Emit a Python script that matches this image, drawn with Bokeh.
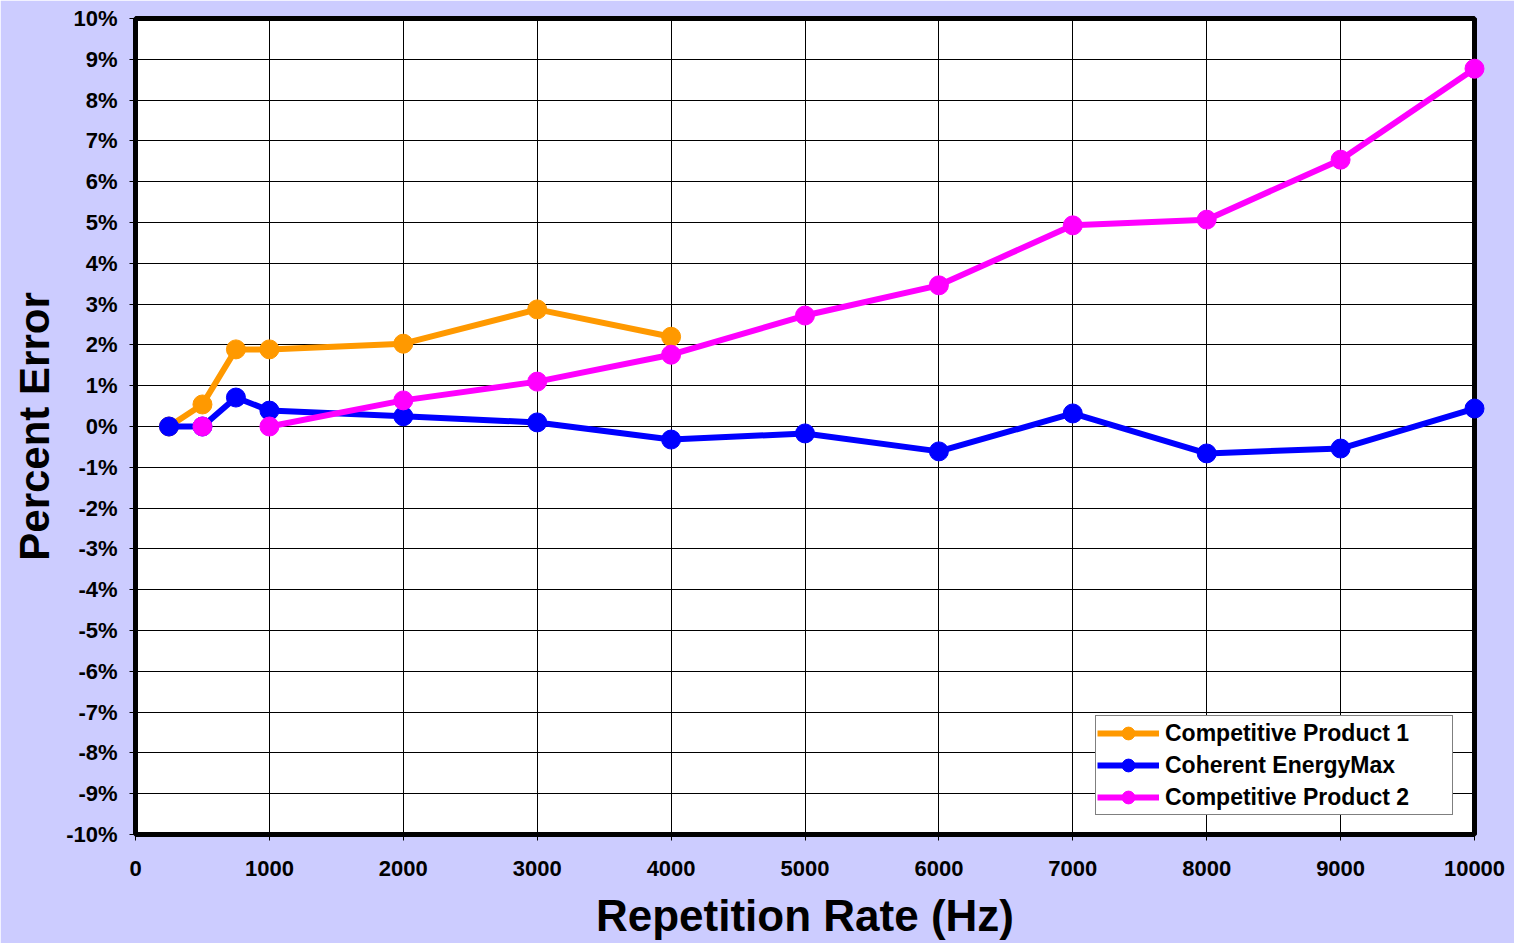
from bokeh.plotting import figure
from bokeh.models import Range1d, FixedTicker, PrintfTickFormatter, Legend, LegendItem
from bokeh.embed import file_html
from bokeh.resources import INLINE
import numpy as np

# Data (percent error vs repetition rate in Hz)
cp1_x = [250, 500, 750, 1000, 2000, 3000, 4000]
cp1_y = [0.0, 0.54, 1.89, 1.89, 2.03, 2.87, 2.20]

coh_x = [250, 500, 750, 1000, 2000, 3000, 4000, 5000, 6000, 7000, 8000, 9000, 10000]
coh_y = [0.0, 0.0, 0.71, 0.39, 0.25, 0.10, -0.32, -0.17, -0.61, 0.32, -0.66, -0.54, 0.44]

cp2_x = [500, 750, 1000, 2000, 3000, 4000, 5000, 6000, 7000, 8000, 9000, 10000]
cp2_y = [0.0, np.nan, 0.0, 0.64, 1.10, 1.76, 2.72, 3.46, 4.93, 5.07, 6.54, 8.77]

series_names = ["Competitive Product 1", "Coherent EnergyMax", "Competitive Product 2"]
series_colors = ["#FF9900", "#0000FF", "#FF00FF"]

x_ticks = list(range(0, 10001, 1000))
y_ticks = list(range(-10, 11, 1))

FONT = "Liberation Sans"

p = figure(width=1514, height=943, output_backend="svg", toolbar_location=None,
           x_range=Range1d(0, 10000), y_range=Range1d(-10, 10),
           min_border_left=135, min_border_right=40, min_border_top=18, min_border_bottom=109)

p.border_fill_color = "#CCCCFF"
p.background_fill_color = "white"
p.outline_line_color = "black"
p.outline_line_width = 5

for ax in (p.xaxis[0], p.yaxis[0]):
    ax.axis_line_color = None
    ax.major_tick_line_color = "black"
    ax.major_tick_out = 6
    ax.major_tick_in = 0
    ax.minor_tick_line_color = None
    ax.major_label_text_font = FONT
    ax.major_label_text_font_style = "bold"
    ax.major_label_text_font_size = "22px"
    ax.major_label_text_color = "black"
    ax.axis_label_text_font = FONT
    ax.axis_label_text_font_style = "bold"
    ax.axis_label_text_color = "black"

p.xaxis.ticker = FixedTicker(ticks=x_ticks)
p.yaxis.ticker = FixedTicker(ticks=y_ticks)
p.yaxis.formatter = PrintfTickFormatter(format="%d%%")
p.xaxis.axis_label = "Repetition Rate (Hz)"
p.yaxis.axis_label = "Percent Error"
p.xaxis.axis_label_text_font_size = "44px"
p.yaxis.axis_label_text_font_size = "42px"
p.xaxis.axis_label_standoff = 12
p.yaxis.axis_label_standoff = 5
p.xaxis.major_label_standoff = 20
p.yaxis.major_label_standoff = 12

p.xgrid.ticker = FixedTicker(ticks=x_ticks)
p.ygrid.ticker = FixedTicker(ticks=y_ticks)
p.grid.grid_line_color = "black"
p.grid.grid_line_width = 1

items = []
for xs, ys, name, col in zip([cp1_x, coh_x, cp2_x], [cp1_y, coh_y, cp2_y], series_names, series_colors):
    l = p.line(xs, ys, line_color=col, line_width=6, level="overlay")
    c = p.scatter(xs, ys, size=19, fill_color=col, line_color=col, level="overlay")
    items.append(LegendItem(label=name, renderers=[l, c]))

legend = Legend(items=items, location=(960, 19))
legend.label_text_font = FONT
legend.label_text_font_style = "bold"
legend.label_text_font_size = "23px"
legend.label_text_color = "black"
legend.border_line_color = "black"
legend.border_line_width = 1
legend.background_fill_color = "white"
legend.background_fill_alpha = 1
legend.glyph_width = 62
legend.glyph_height = 32
legend.label_height = 32
legend.label_width = 286
legend.label_standoff = 6
legend.spacing = 0
legend.padding = 1
legend.margin = 0
p.add_layout(legend, "center")

open("out.html", "w").write(file_html(p, INLINE))
